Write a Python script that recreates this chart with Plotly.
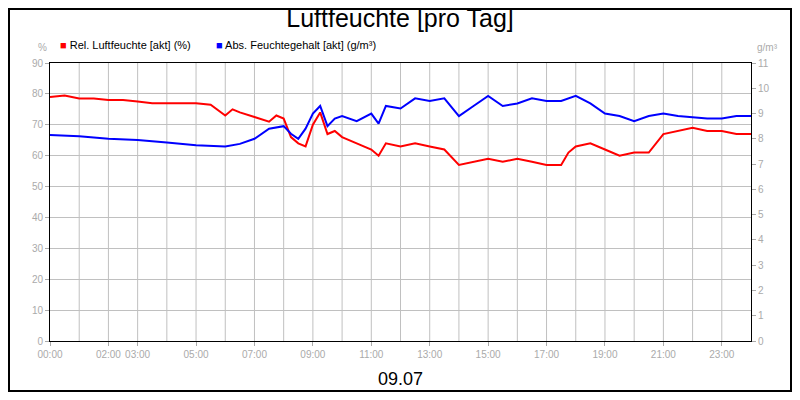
import plotly.graph_objects as go

red_h = [0,0.5,1,1.5,2,2.5,3,3.5,4,4.5,5,5.5,6,6.25,6.5,7,7.5,7.75,8,8.25,8.5,8.75,9,9.25,9.5,9.75,10,10.5,11,11.25,11.5,12,12.5,13,13.5,14,14.5,15,15.5,16,16.5,17,17.5,17.75,18,18.5,19,19.5,20,20.5,21,21.5,22,22.5,23,23.5,24]
red_v = [79,79.5,78.5,78.5,78,78,77.5,77,77,77,77,76.5,73,75,74,72.5,71,73,72,66,64,63,70,74,67,68,66,64,62,60,64,63,64,63,62,57,58,59,58,59,58,57,57,61,63,64,62,60,61,61,67,68,69,68,68,67,67]
blue_h = [0,1,2,3,4,5,6,6.5,7,7.5,8,8.25,8.5,8.75,9,9.25,9.5,9.75,10,10.5,11,11.25,11.5,12,12.5,13,13.5,14,14.5,15,15.5,16,16.5,17,17.5,18,18.5,19,19.5,20,20.5,21,21.5,22,22.5,23,23.5,24]
blue_v = [8.15,8.1,8.0,7.95,7.85,7.75,7.7,7.8,8.0,8.4,8.5,8.2,8.0,8.4,9.0,9.3,8.5,8.8,8.9,8.7,9.0,8.6,9.3,9.2,9.6,9.5,9.6,8.9,9.3,9.7,9.3,9.4,9.6,9.5,9.5,9.7,9.4,9.0,8.9,8.7,8.9,9.0,8.9,8.85,8.8,8.8,8.9,8.9]
tick_hours = [0,2,3,5,7,9,11,13,15,17,19,21,23]
tick_text = ["00:00","02:00","03:00","05:00","07:00","09:00","11:00","13:00","15:00","17:00","19:00","21:00","23:00"]

fig = go.Figure()
fig.add_trace(go.Scatter(x=red_h, y=red_v, mode="lines", line=dict(color="#ff0000", width=2), showlegend=False))
fig.add_trace(go.Scatter(x=blue_h, y=blue_v, mode="lines", line=dict(color="#0000ff", width=2), yaxis="y2", showlegend=False))

L, R, T, B = 42, 41, 55, 51
grey = dict(color="#aaaaaa", size=10, family="Arial")
fig.update_layout(
    width=784, height=384, paper_bgcolor="white", plot_bgcolor="white",
    margin=dict(l=L, r=R, t=T, b=B),
    title=dict(text="Luftfeuchte [pro Tag]", x=0.5, y=1-10/384, xanchor="center", yanchor="middle",
               font=dict(size=25, color="black", family="Arial")),
    xaxis=dict(range=[0,24], tickvals=tick_hours, ticktext=tick_text, tickfont=grey,
               showgrid=False, showline=True, linecolor="black", mirror=True, ticks="outside",
               tickcolor="#aaaaaa", ticklen=4, zeroline=False),
    yaxis=dict(range=[0,90], dtick=10, tickfont=grey, gridcolor="#c0c0c0", showline=True,
               linecolor="black", mirror=True, ticks="outside", tickcolor="#aaaaaa", ticklen=4, zeroline=False),
    yaxis2=dict(range=[0,11], dtick=1, overlaying="y", side="right", tickfont=grey, showgrid=False,
                ticks="outside", tickcolor="#aaaaaa", ticklen=4, zeroline=False, showline=False),
    shapes=[dict(type="rect", xref="paper", yref="paper", x0=-(L-1)/701, x1=1+(R-1)/701, y0=-(B-1)/278, y1=1+(T-1)/278,
                 line=dict(color="black", width=2))] +
           [dict(type="line", xref="x", yref="paper", x0=h, x1=h, y0=0, y1=1, layer="below",
                 line=dict(color="#c0c0c0", width=1)) for h in range(1,24)],
    annotations=[
        dict(text="<span style='color:#ff0000'>■</span> Rel. Luftfeuchte [akt] (%)", xref="paper", yref="paper",
             x=8/701, y=1+18/278, xanchor="left", yanchor="middle", showarrow=False, font=dict(size=11, family="Arial", color="black")),
        dict(text="<span style='color:#0000ff'>■</span> Abs. Feuchtegehalt [akt] (g/m³)", xref="paper", yref="paper",
             x=164/701, y=1+18/278, xanchor="left", yanchor="middle", showarrow=False, font=dict(size=11, family="Arial", color="black")),
        dict(text="%", xref="paper", yref="paper", x=-8/701, y=1+15/278, xanchor="center", yanchor="middle",
             showarrow=False, font=grey),
        dict(text="g/m³", xref="paper", yref="paper", x=1+16/701, y=1+15/278, xanchor="center", yanchor="middle",
             showarrow=False, font=grey),
        dict(text="09.07", xref="paper", yref="paper", x=0.5, y=-38/278, xanchor="center", yanchor="middle",
             showarrow=False, font=dict(size=18, family="Arial", color="black")),
    ],
)
fig.write_html("out.html")
